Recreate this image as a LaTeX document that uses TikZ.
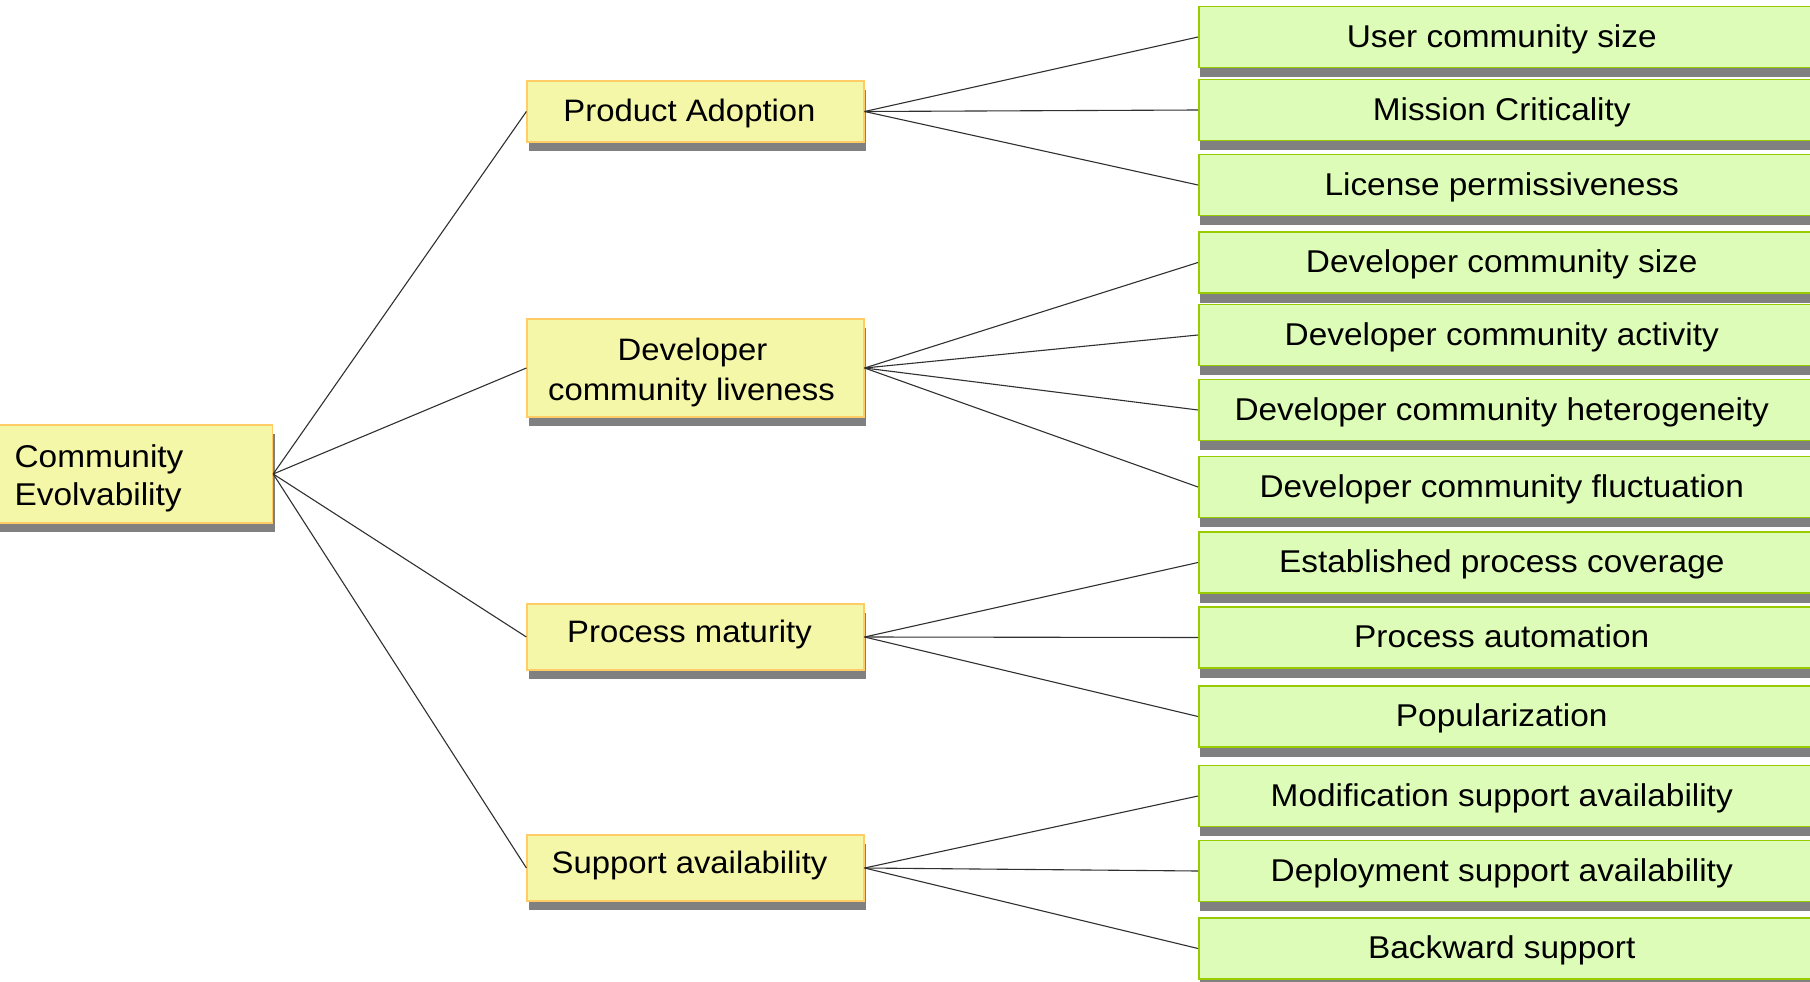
\documentclass[tikz,border=0pt]{standalone}
\usepackage{fontspec}
\setmainfont{Liberation Sans}
\newfontfamily\dfont[FakeStretch=1.06]{Liberation Sans}
\usetikzlibrary{shadows}
\definecolor{yfill}{HTML}{F4F6A8}
\definecolor{ydraw}{HTML}{FFCC66}
\definecolor{gfill}{HTML}{DDFCB8}
\definecolor{gdraw}{HTML}{99CC00}
\definecolor{shade}{HTML}{808080}
\definecolor{conncol}{HTML}{303030}
\newcommand{\gtxt}[1]{\makebox[606pt]{#1}\hspace*{60pt}}
\newcommand{\ytxt}[1]{#1\hspace*{12pt}}
\begin{document}
\begin{tikzpicture}[x=1pt,y=-1pt,
  ybox/.style={draw=ydraw, line width=1.2pt, fill=yfill, minimum width=337pt, inner sep=0pt,
    font=\dfont\fontsize{31}{40}\selectfont,
    drop shadow={shadow xshift=2pt, shadow yshift=-9pt, fill=shade, opacity=1}},
  yone/.style={ybox, text height=24pt, text depth=3.5pt},
  yhigh/.style={ybox, text height=20pt, text depth=9.5pt},
  gbox/.style={draw=gdraw, line width=1.5pt, fill=gfill, minimum height=61pt, anchor=west, inner sep=0pt,
    font=\dfont\fontsize{31.5}{40}\selectfont, text height=24pt, text depth=3.5pt,
    drop shadow={shadow xshift=1.5pt, shadow yshift=-9.5pt, fill=shade, opacity=1}},
  conn/.style={draw=conncol, line width=1.1pt}]
\useasboundingbox (0,0) rectangle (1810,982);
\clip (0,0) rectangle (1810,982);

% root
\node[ybox, anchor=west, minimum width=277pt, minimum height=98pt, text width=239pt, inner xsep=18pt, align=left,
  font=\dfont\fontsize{31.5}{38}\selectfont] (root) at (-5,474) {\rule{0pt}{31pt}Community\\Evolvability};

% middle level
\node[yone, minimum height=61pt] (pa) at (695.5,111.5) {\ytxt{Product Adoption}};
\node[ybox, minimum height=98pt, align=center] (dcl) at (695.5,368) {\rule{0pt}{31pt}Developer\hspace*{6pt}\\community liveness\hspace*{8pt}};
\node[yhigh, minimum height=66pt] (pm) at (695.5,637) {\ytxt{Process maturity}};
\node[yhigh, minimum height=66pt] (sa) at (695.5,868) {\ytxt{Support availability}};

% leaves
\node[gbox] (g1) at (1198,37) {\gtxt{User community size}};
\node[gbox] (g2) at (1198,110) {\gtxt{Mission Criticality}};
\node[gbox] (g3) at (1198,185) {\gtxt{License permissiveness}};
\node[gbox] (g4) at (1198,262.5) {\gtxt{Developer community size}};
\node[gbox] (g5) at (1198,335) {\gtxt{Developer community activity}};
\node[gbox] (g6) at (1198,410) {\gtxt{Developer community heterogeneity}};
\node[gbox] (g7) at (1198,487) {\gtxt{Developer community fluctuation}};
\node[gbox] (g8) at (1198,562.5) {\gtxt{Established process coverage}};
\node[gbox] (g9) at (1198,637.5) {\gtxt{Process automation}};
\node[gbox] (g10) at (1198,716.5) {\gtxt{Popularization}};
\node[gbox] (g11) at (1198,796) {\gtxt{Modification support availability}};
\node[gbox] (g12) at (1198,871) {\gtxt{Deployment support availability}};
\node[gbox] (g13) at (1198,948.5) {\gtxt{Backward support}};

% connectors
\foreach \m in {pa,dcl,pm,sa} \draw[conn] (root.east) -- (\m.west);
\foreach \g in {g1,g2,g3} \draw[conn] (pa.east) -- (\g.west);
\foreach \g in {g4,g5,g6,g7} \draw[conn] (dcl.east) -- (\g.west);
\foreach \g in {g8,g9,g10} \draw[conn] (pm.east) -- (\g.west);
\foreach \g in {g11,g12,g13} \draw[conn] (sa.east) -- (\g.west);
\end{tikzpicture}
\end{document}
